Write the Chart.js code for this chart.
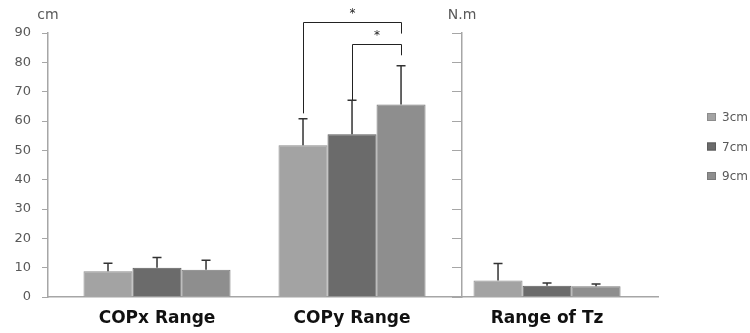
<!DOCTYPE html>
<html>
<head>
<meta charset="utf-8">
<script src="https://cdn.jsdelivr.net/npm/chart.js@4/dist/chart.umd.min.js"></script>
<style>
  html, body { margin: 0; padding: 0; background: #fff; overflow: hidden; }
  #wrap { width: 750px; height: 333px; }
</style>
</head>
<body>
<div id="wrap"><canvas id="chart" width="750" height="333"></canvas></div>
<script>
// categories and series
const categories = ["COPx Range", "COPy Range", "Range of Tz"];
const seriesNames = ["3cm", "7cm", "9cm"];

// means
const mean3 = [8.8, 51.7, 5.6];
const mean7 = [10.0, 55.5, 3.8];
const mean9 = [9.3, 65.6, 3.7];

// error bar sizes (upper only)
const sd3 = [2.7, 9.1, 5.8];
const sd7 = [3.5, 11.6, 1.0];
const sd9 = [3.2, 13.2, 0.7];

const yTicks = [0, 10, 20, 30, 40, 50, 60, 70, 80, 90];

// significance brackets in COPy Range (series index from -> to)
const brackets = [
  { cat: 1, from: 0, to: 2, top: 93.8, fromEnd: 62.6, toEnd: 89.8, star: 97.5 },
  { cat: 1, from: 1, to: 2, top: 86.4, fromEnd: 67.1, toEnd: 82.4, star: 90.0 }
];

const colors = ["#a3a3a3", "#6b6b6b", "#8e8e8e"];
const borders = ["#8c8c8c", "#5c5c5c", "#7a7a7a"];
const means = [mean3, mean7, mean9];
const sds = [sd3, sd7, sd9];

const datasets = seriesNames.map((name, s) => ({
  label: name,
  data: means[s].map((v, i) => ({ x: i, y: v })),
  backgroundColor: colors[s],
  borderColor: borders[s],
  borderWidth: 1,
  categoryPercentage: 0.754,
  barPercentage: 1.0
}));

const axisGrey = "#a6a6a6";
const textGrey = "#595959";
const secondAxisAt = 1.564; // N.m axis sits between COPy and Tz

// error bars
const errorBars = {
  id: "errorBars",
  afterDatasetsDraw(chart) {
    const ctx = chart.ctx;
    const y = chart.scales.y;
    ctx.save();
    ctx.strokeStyle = "#333";
    ctx.lineWidth = 1.5;
    chart.data.datasets.forEach((ds, s) => {
      chart.getDatasetMeta(s).data.forEach((bar, i) => {
        const top = y.getPixelForValue(means[s][i] + sds[s][i]);
        ctx.beginPath();
        ctx.moveTo(bar.x, bar.y);
        ctx.lineTo(bar.x, top);
        ctx.moveTo(bar.x - 4.5, top);
        ctx.lineTo(bar.x + 4.5, top);
        ctx.stroke();
      });
    });
    ctx.restore();
  }
};

// brackets, axis titles and legend
const extras = {
  id: "extras",
  afterDraw(chart) {
    const ctx = chart.ctx;
    const y = chart.scales.y;
    const area = chart.chartArea;
    ctx.save();

    // brackets
    ctx.strokeStyle = "#222";
    ctx.lineWidth = 1;
    ctx.fillStyle = "#222";
    ctx.font = "12px 'DejaVu Sans'";
    ctx.textAlign = "center";
    ctx.textBaseline = "middle";
    brackets.forEach(b => {
      const x1 = Math.round(chart.getDatasetMeta(b.from).data[b.cat].x) + 0.5;
      const x2 = Math.round(chart.getDatasetMeta(b.to).data[b.cat].x) + 0.5;
      const yt = Math.round(y.getPixelForValue(b.top)) + 0.5;
      ctx.beginPath();
      ctx.moveTo(x1, y.getPixelForValue(b.fromEnd));
      ctx.lineTo(x1, yt);
      ctx.lineTo(x2, yt);
      ctx.lineTo(x2, y.getPixelForValue(b.toEnd));
      ctx.stroke();
      ctx.fillText("*", (x1 + x2) / 2, y.getPixelForValue(b.star) + 3);
    });

    // axis titles
    ctx.fillStyle = textGrey;
    ctx.font = "14px 'DejaVu Sans'";
    ctx.fillText("cm", chart.scales.y.right, 15);
    ctx.fillText("N.m", chart.scales.x.getPixelForValue(secondAxisAt), 15);

    // legend
    ctx.font = "12px 'DejaVu Sans'";
    ctx.textAlign = "left";
    seriesNames.forEach((name, s) => {
      const cy = area.top + 85 + s * 29.5;
      const lx = area.right + 49;
      ctx.fillStyle = colors[s];
      ctx.fillRect(lx, cy - 5, 9, 8);
      ctx.strokeStyle = borders[s];
      ctx.strokeRect(lx + 0.5, cy - 4.5, 8, 7);
      ctx.fillStyle = textGrey;
      ctx.fillText(name, lx + 15, cy);
    });
    ctx.restore();
  }
};

new Chart(document.getElementById("chart"), {
  type: "bar",
  data: { datasets: datasets },
  plugins: [errorBars, extras],
  options: {
    responsive: false,
    animation: false,
    layout: { padding: { top: 33, right: 92, left: 0, bottom: 0 } },
    plugins: { legend: { display: false }, tooltip: { enabled: false } },
    scales: {
      x: {
        type: "linear",
        offset: false,
        min: -0.559,
        max: 2.569,
        afterBuildTicks: (s) => { s.ticks = categories.map((c, i) => ({ value: i })); },
        afterFit: (s) => { s.height = 36; },
        grid: { display: false, drawTicks: false },
        border: { color: axisGrey, width: 1.5 },
        ticks: {
          padding: 11,
          maxRotation: 0,
          autoSkip: false,
          color: "#111",
          font: { family: "DejaVu Sans", size: 17, weight: "bold" },
          callback: (v) => categories[v] ?? ""
        }
      },
      y: {
        position: "left",
        min: 0,
        max: 90,
        afterBuildTicks: (s) => { s.ticks = yTicks.map(v => ({ value: v })); },
        afterFit: (s) => { s.width = 48; },
        grid: { drawOnChartArea: false, drawTicks: true, tickLength: 6, color: axisGrey },
        border: { color: axisGrey, width: 1.5 },
        ticks: { padding: 11, color: textGrey, font: { family: "DejaVu Sans", size: 13 } }
      },
      y2: {
        position: { x: secondAxisAt },
        min: 0,
        max: 90,
        afterBuildTicks: (s) => { s.ticks = yTicks.map(v => ({ value: v })); },
        grid: { drawOnChartArea: false, drawTicks: true, tickLength: 9, color: axisGrey },
        border: { color: axisGrey, width: 1.5 },
        ticks: { display: false }
      }
    }
  }
});
</script>
</body>
</html>
